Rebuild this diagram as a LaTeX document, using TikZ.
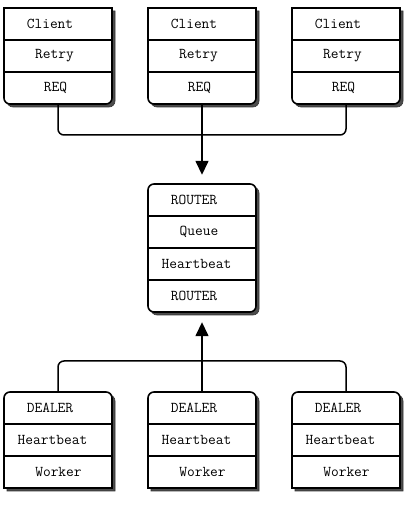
\documentclass[tikz,border=0pt]{standalone}
\usetikzlibrary{arrows.meta}
\begin{document}
\begin{tikzpicture}[x=1pt,y=1pt,
  boxline/.style={line width=1.6pt, fill=white},
  shadowfill/.style={fill=black!70, draw=black!80, line width=0.6pt},
  sep/.style={line width=1.1pt},
  lbl/.style={font=\ttfamily\fontsize{15}{18}\selectfont, inner sep=0pt, anchor=center},
  anchorbox/.style={draw=none, inner sep=0pt, minimum width=108pt},
  conn/.style={line width=1.5pt, rounded corners=6pt},
  arr/.style={line width=1.5pt, -{Triangle[length=14pt,width=13pt]}}
]
\useasboundingbox (0,0) rectangle (405,512);
\def\r{6}
\foreach \i/\L in {1/4,2/148,3/292}{
  \pgfmathsetmacro{\R}{\L+108}
  \pgfmathsetmacro{\cx}{\L+54}
  % client box (bottom corners rounded)
  \begin{scope}[shift={(3,-3)}]
    \path[shadowfill] (\L,504) -- (\L,414) arc[start angle=180,end angle=270,radius=\r] -- (\R-\r,408) arc[start angle=270,end angle=360,radius=\r] -- (\R,504) -- cycle;
  \end{scope}
  \draw[boxline] (\L,504) -- (\L,414) arc[start angle=180,end angle=270,radius=\r] -- (\R-\r,408) arc[start angle=270,end angle=360,radius=\r] -- (\R,504) -- cycle;
  \draw[sep] (\L,472) -- (\R,472) (\L,440) -- (\R,440);
  \node[anchorbox, minimum height=96pt] (c\i) at (\cx,456) {};
  \node[lbl] (c\i a) at (\cx-8,488) {Client};
  \node[lbl] (c\i b) at (\cx-3.5,456) {Retry};
  \node[lbl] (c\i c) at (\cx-2.5,424) {REQ};
  % dealer box (top corners rounded)
  \begin{scope}[shift={(3,-3)}]
    \path[shadowfill] (\L,24) -- (\L,114) arc[start angle=180,end angle=90,radius=\r] -- (\R-\r,120) arc[start angle=90,end angle=0,radius=\r] -- (\R,24) -- cycle;
  \end{scope}
  \draw[boxline] (\L,24) -- (\L,114) arc[start angle=180,end angle=90,radius=\r] -- (\R-\r,120) arc[start angle=90,end angle=0,radius=\r] -- (\R,24) -- cycle;
  \draw[sep] (\L,88) -- (\R,88) (\L,56) -- (\R,56);
  \node[anchorbox, minimum height=96pt] (d\i) at (\cx,72) {};
  \node[lbl] (d\i a) at (\cx-8,104) {DEALER};
  \node[lbl] (d\i b) at (\cx-5.5,72) {Heartbeat};
  \node[lbl] (d\i c) at (\cx+0.5,40) {Worker};
}
% router
\path[shadowfill, rounded corners=6pt] (151,197) rectangle (259,325);
\draw[boxline, rounded corners=6pt] (148,200) rectangle (256,328);
\draw[sep] (148,296) -- (256,296) (148,264) -- (256,264) (148,232) -- (256,232);
\node[anchorbox, minimum height=128pt] (r) at (202,264) {};
\node[lbl] (ra) at (194,312) {ROUTER};
\node[lbl] (rb) at (199,280) {Queue};
\node[lbl] (rc) at (196.5,248) {Heartbeat};
\node[lbl] (rd) at (194,216) {ROUTER};
% connectors
\coordinate (jt) at (202,377);
\coordinate (jb) at (202,151);
\draw[conn] (c1.south) |- (jt) -| (c3.south);
\draw[arr, shorten >=9pt] (c2.south) -- (r.north);
\draw[conn] (d1.north) |- (jb) -| (d3.north);
\draw[arr, shorten >=10pt] (d2.north) -- (r.south);
\end{tikzpicture}
\end{document}
